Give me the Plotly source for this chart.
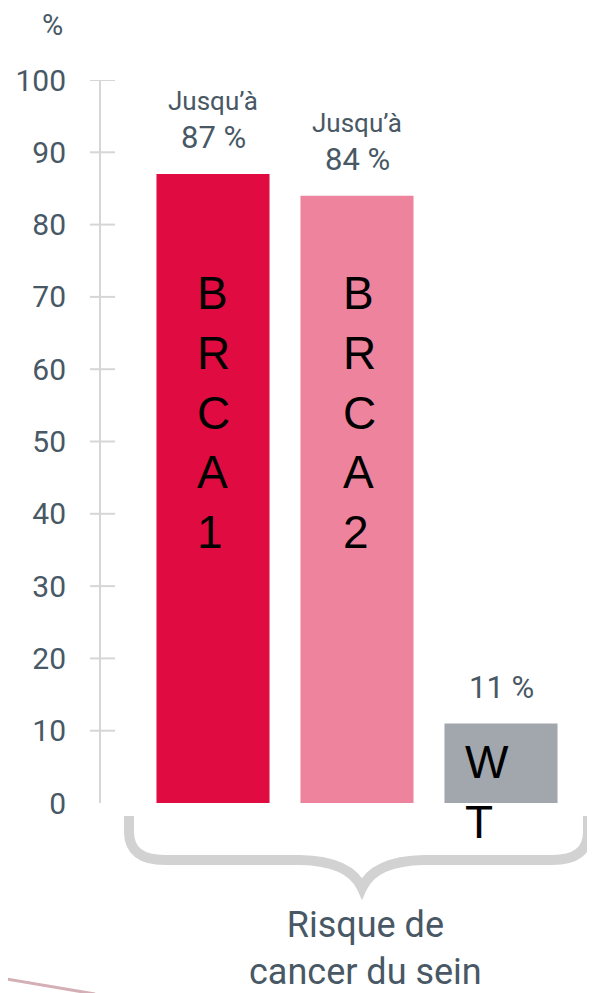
"""Risque de cancer du sein : barres BRCA1 / BRCA2 / WT."""

import plotly.graph_objects as go

categories = ["BRCA1", "BRCA2", "WT"]
values = [87, 84, 11]
value_labels = ["87 %", "84 %", "11 %"]
prefix_labels = ["Jusqu’à", "Jusqu’à", ""]
bar_texts = ["B<br>R<br>C<br>A<br>1", "B<br>R<br>C<br>A<br>2", "W<br>T"]
colors = ["#e00b41", "#ee839e", "#a1a7ad"]
y_ticks = [0, 10, 20, 30, 40, 50, 60, 70, 80, 90, 100]

W, H = 595, 993
OFF = 8  # marge par défaut du <body>
L, R, T, B = 101, 0, 80, 190
PW, PH = W - L - R, H - T - B
TEXT = "#485865"
FONT = "Roboto"


def px(x, y):
    """pixel (page) -> paper"""
    return (x - L) / PW, (H - B - y) / PH


def path(cmds):
    out = []
    for c in cmds:
        if isinstance(c, str):
            out.append(c)
        else:
            a, b = px(*c)
            out.append(f"{a:.4f},{b:.4f}")
    return " ".join(out)


fig = go.Figure()
fig.add_trace(
    go.Bar(
        x=categories,
        y=values,
        marker=dict(color=colors, line=dict(width=0)),
        width=0.785,
        hoverinfo="skip",
    )
)

ann = []
for cat, v, lab, pre in zip(categories, values, value_labels, prefix_labels):
    ann.append(dict(x=cat, y=v, text=lab, showarrow=False, yanchor="middle", yshift=36,
                    font=dict(family=FONT, size=31, color=TEXT)))
    if pre:
        ann.append(dict(x=cat, y=v, text=pre, showarrow=False, yanchor="middle", yshift=73,
                        font=dict(family=FONT, size=26, color=TEXT)))

# texte vertical dans les barres
letters = dict(family="Liberation Sans", size=46, color="black")
ann.append(dict(x="BRCA1", y=74.4, text=bar_texts[0], showarrow=False, xanchor="left", yanchor="top",
                align="left", xshift=-18, font=letters))
ann.append(dict(x="BRCA2", y=74.4, text=bar_texts[1], showarrow=False, xanchor="left", yanchor="top",
                align="left", xshift=-16, font=letters))
ann.append(dict(x="WT", y=9.5, text=bar_texts[2], showarrow=False, xanchor="left", yanchor="top",
                align="left", xshift=-38, font=letters))

ann.append(dict(x=px(52, 25)[0], y=px(52, 25)[1], xref="paper", yref="paper", text="%",
                xanchor="center", yanchor="middle", showarrow=False,
                font=dict(family=FONT, size=29, color=TEXT)))
ann.append(dict(x=px(365, 948)[0], y=px(365, 948)[1], xref="paper", yref="paper",
                text="Risque de<br>cancer du sein", xanchor="center", yanchor="middle",
                showarrow=False, font=dict(family=FONT, size=36, color=TEXT)))

shapes = []
for t in y_ticks[1:]:
    shapes.append(dict(type="line", xref="paper", yref="y", xsizemode="pixel", xanchor=0,
                       x0=-11, x1=14, y0=t, y1=t, line=dict(color="#d6d6d6", width=2)))

brace = [
    "M", (129, 816), "L", (129, 832), "Q", (129, 860), (165, 860), "L", (300, 860),
    "Q", (350, 861), (362, 888), "Q", (374, 861), (424, 860), "L", (552, 860),
    "Q", (588, 860), (588, 832), "L", (588, 816),
]
shapes.append(dict(type="path", xref="paper", yref="paper", path=path(brace),
                   line=dict(color="#d2d2d2", width=10)))
shapes.append(dict(type="path", xref="paper", yref="paper",
                   path=path(["M", (0, 978), "L", (95, 994)]),
                   line=dict(color="#d4b0b6", width=3)))

fig.update_layout(
    width=W - OFF,
    height=H - OFF,
    margin=dict(l=L - OFF, r=R, t=T - OFF, b=B),
    paper_bgcolor="white",
    plot_bgcolor="white",
    showlegend=False,
    annotations=ann,
    shapes=shapes,
    xaxis=dict(type="category", range=[-0.7778, 2.6528], showticklabels=False,
               showgrid=False, zeroline=False, showline=False, fixedrange=True),
    yaxis=dict(range=[0, 100], tickvals=y_ticks, ticks="", showgrid=False, zeroline=False,
               showline=True, linecolor="#d6d6d6", linewidth=2, ticklabelstandoff=27,
               tickfont=dict(family=FONT, size=30, color=TEXT), fixedrange=True),
)

fig.write_html("out.html")
